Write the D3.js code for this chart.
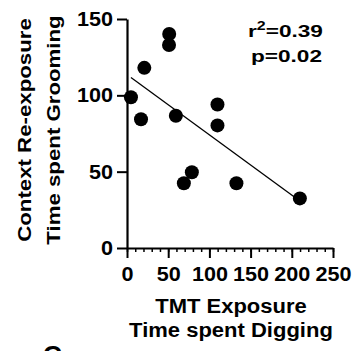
<!DOCTYPE html>
<html>
<head>
<meta charset="utf-8">
<script src="https://cdn.jsdelivr.net/npm/d3@7"></script>
<style>
  body { margin: 0; background: #fff; }
  text { font-family: "Liberation Sans", Arial, sans-serif; font-weight: bold; fill: #000; }
</style>
</head>
<body>
<script>
// TMT exposure digging time vs context re-exposure grooming time (one point per animal)
const diggingTime = [51.2, 51, 21, 4.8, 17, 59.3, 109.8, 109.8, 78.7, 69, 132.8, 209.8];
const groomingTime = [140.2, 133, 118, 98.7, 84.3, 86.6, 94, 80.3, 49.6, 42.4, 42.4, 32.5];
const xTicks = [0, 50, 100, 150, 200, 250];
const xMinorTicks = d3.range(0, 251, 10);
const yTicks = [0, 50, 100, 150];
const rSquared = '0.39';
const pValue = '0.02';

const width = 360, height = 351;

const svg = d3.select('body').append('svg')
  .attr('width', width)
  .attr('height', height);

const x = d3.scaleLinear().domain([0, 250]).range([127, 333]);
const y = d3.scaleLinear().domain([0, 150]).range([248, 19]);

// stretch text horizontally, the source font runs wider than Arial
function widen(sel, k) {
  sel.each(function () {
    const len = this.getComputedTextLength();
    d3.select(this).attr('textLength', len * k).attr('lengthAdjust', 'spacingAndGlyphs');
  });
}

// minor ticks on x
svg.append('g')
  .attr('transform', `translate(0,${y(0)})`)
  .call(d3.axisBottom(x).tickValues(xMinorTicks).tickSize(4).tickSizeOuter(0).tickFormat(''))
  .call(g => g.select('.domain').remove())
  .call(g => g.selectAll('line').attr('stroke-width', 1.5));

const xAxis = svg.append('g')
  .attr('transform', `translate(0,${y(0)})`)
  .call(d3.axisBottom(x).tickValues(xTicks).tickSize(10).tickSizeOuter(0).tickPadding(9));

const yAxis = svg.append('g')
  .attr('transform', `translate(${x(0)},0)`)
  .call(d3.axisLeft(y).tickValues(yTicks).tickSize(10).tickSizeOuter(0).tickPadding(4));

[xAxis, yAxis].forEach(ax => {
  ax.selectAll('.domain').attr('stroke-width', 2.2);
  ax.selectAll('.tick line').attr('stroke-width', 2);
  ax.selectAll('text').style('font-size', '20px').attr('fill', '#000');
  widen(ax.selectAll('text'), 1.08);
});

// regression line
const mx = d3.mean(diggingTime), my = d3.mean(groomingTime);
const sxy = d3.sum(diggingTime, (d, i) => (d - mx) * (groomingTime[i] - my));
const sxx = d3.sum(diggingTime, d => (d - mx) * (d - mx));
const slope = sxy / sxx, intercept = my - slope * mx;
const x0 = d3.min(diggingTime), x1 = d3.max(diggingTime);

svg.append('line')
  .attr('x1', x(x0)).attr('y1', y(intercept + slope * x0))
  .attr('x2', x(x1)).attr('y2', y(intercept + slope * x1))
  .attr('stroke', '#000')
  .attr('stroke-width', 1.3);

svg.append('g').selectAll('circle')
  .data(diggingTime)
  .enter().append('circle')
  .attr('cx', d => x(d))
  .attr('cy', (d, i) => y(groomingTime[i]))
  .attr('r', 7)
  .attr('fill', '#000');

// stats
const r2 = svg.append('text')
  .attr('x', 248).attr('y', 37)
  .style('font-size', '17px');
r2.append('tspan').text('r');
r2.append('tspan').attr('dy', -7).style('font-size', '12px').text('2');
r2.append('tspan').attr('dy', 7).text('=' + rSquared);
widen(r2, 1.33);

const pv = svg.append('text')
  .attr('x', 251).attr('y', 62)
  .style('font-size', '17px')
  .text('p=' + pValue);
widen(pv, 1.33);

// axis titles
const yTitle = svg.append('g')
  .attr('transform', 'translate(0,130) rotate(-90)');
yTitle.append('text').attr('x', 0).attr('y', 31)
  .attr('text-anchor', 'middle').style('font-size', '19px')
  .text('Context Re-exposure');
yTitle.append('text').attr('x', 0).attr('y', 60)
  .attr('text-anchor', 'middle').style('font-size', '19px')
  .text('Time spent Grooming');
widen(yTitle.selectAll('text'), 1.17);

const xTitle = svg.append('g');
xTitle.append('text').attr('x', 231).attr('y', 313)
  .attr('text-anchor', 'middle').style('font-size', '20px')
  .text('TMT Exposure');
xTitle.append('text').attr('x', 231).attr('y', 337)
  .attr('text-anchor', 'middle').style('font-size', '20px')
  .text('Time spent Digging');
widen(xTitle.selectAll('text'), 1.1);

// next panel letter, cut off at the bottom edge as in the source figure
svg.append('text')
  .attr('x', 43).attr('y', 364)
  .style('font-size', '26px')
  .text('C');
</script>
</body>
</html>
